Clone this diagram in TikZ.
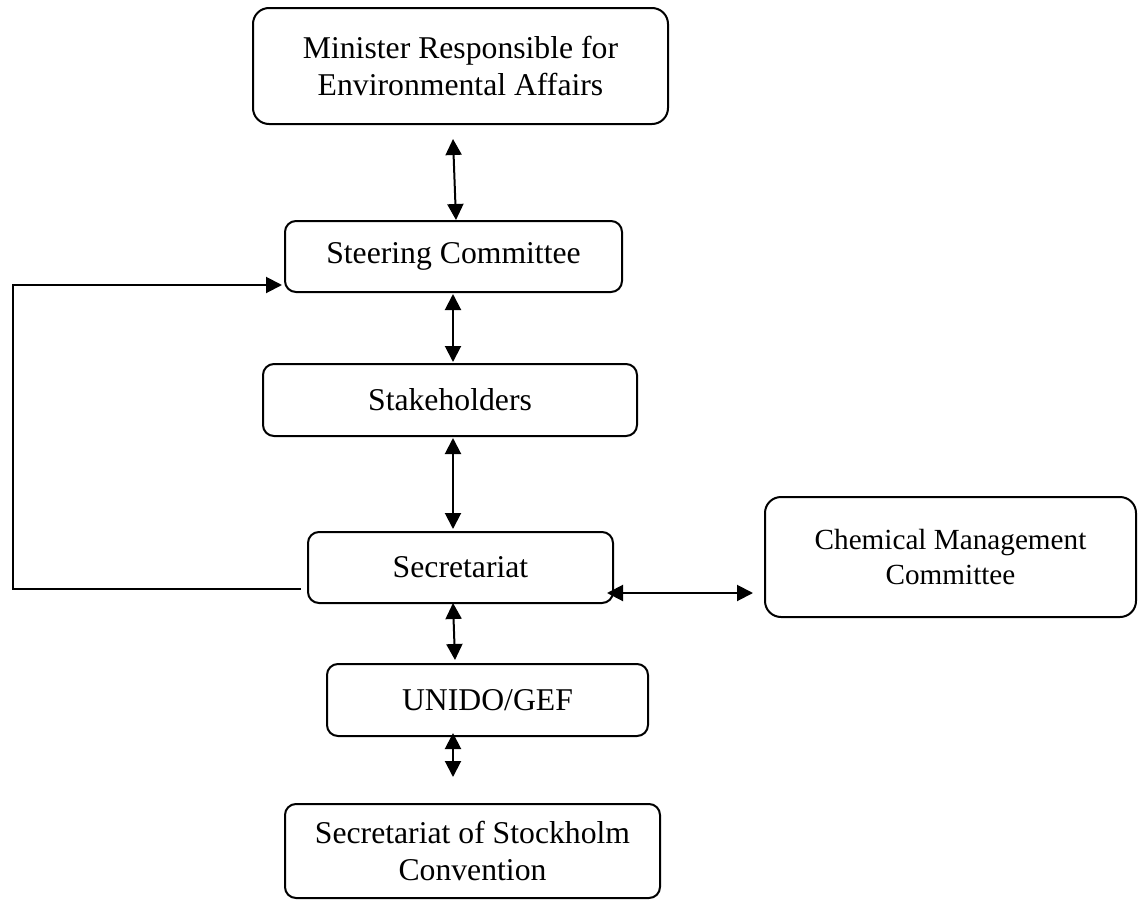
\documentclass[tikz,border=0pt]{standalone}
\usepackage{fontspec}
\setmainfont{Liberation Serif}
\usetikzlibrary{calc,arrows.meta}
\tikzset{>={Triangle[length=8pt,width=8pt]}}
\tikzset{box/.style={draw,line width=1pt,rounded corners=5.5pt,align=center,
    font=\fontsize{15.85}{18.5}\selectfont,inner sep=0pt},
  bigbox/.style={box,rounded corners=8pt}}
\newcommand*{\link}[2]
  {\draw[<->,line width=1pt] #1 -- #2}

\begin{document}
\begin{tikzpicture}[x=0.5pt,y=-0.5pt]
\useasboundingbox (0,0) rectangle (1142,900);
\node[bigbox,minimum width=207.5pt,minimum height=58pt] (minister) at (460.5,66)
  {Minister Responsible for\\Environmental Affairs};
\node[box,minimum width=168.5pt,minimum height=35.5pt] (steering) at (453.5,256.5)
  {Steering Committee};
\node[box,minimum width=187pt,minimum height=36pt] (stake) at (450,400)
  {Stakeholders};
\node[box,minimum width=152.5pt,minimum height=35.5pt] (secr) at (460.5,567.5)
  {Secretariat};
\node[bigbox,minimum width=185.5pt,minimum height=60pt,
  font=\fontsize{14.6}{17.5}\selectfont] (cmc) at (950.5,557)
  {Chemical Management\\Committee};
\node[box,minimum width=160.5pt,minimum height=36pt] (unido) at (487.5,700)
  {UNIDO/GEF};
\node[box,minimum width=187.5pt,minimum height=47pt] (stock) at (472.5,851)
  {Secretariat of Stockholm\\Convention};

\link{($(minister.south)+(-7.5,14)$)}{($(steering.north)+(2.5,0)$)};
\link{($(steering.south)+(-0.5,1)$)}{($(stake.north)+(3,-1)$)};
\link{($(stake.south)+(3,1)$)}{($(secr.north)+(-7.5,-2)$)};
\link{($(secr.south)+(-7.5,-1)$)}{($(unido.north)+(-32.5,-3)$)};
\link{($(unido.south)+(-34.5,-4)$)}{($(stock.north)+(-19.5,-26)$)};
\link{($(secr.east)+(-7,25.5)$)}{($(cmc.west)+(-11,36)$)};

\coordinate (loop) at (13,285);
\draw[->,line width=1pt] ($(secr.west)+(-6,21.5)$) -| (loop)
  -- ($(steering.west)+(-2,28.5)$);
\end{tikzpicture}
\end{document}
